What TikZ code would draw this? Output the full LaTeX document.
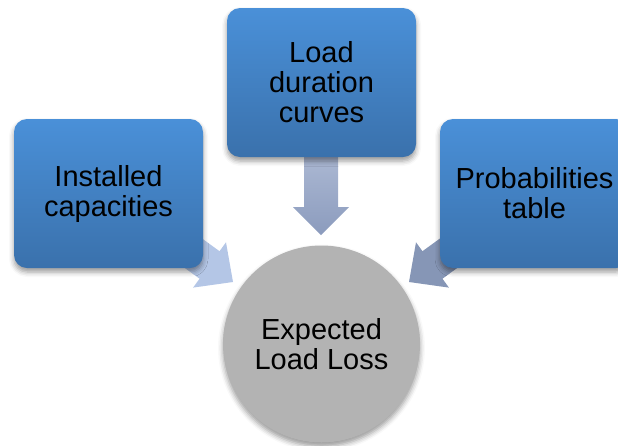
\documentclass[tikz,border=0pt]{standalone}
\usepackage{fontspec}
\setmainfont{Liberation Sans}
\usetikzlibrary{shadows.blur}

\definecolor{boxtop}{HTML}{4A90D8}
\definecolor{boxbottom}{HTML}{3A71AC}
\definecolor{arrowlight}{HTML}{B4C6E6}
\definecolor{arrowtop}{HTML}{B3BFD8}
\definecolor{arrowbottom}{HTML}{8B9BBD}
\definecolor{arrowdark}{HTML}{8696B6}
\definecolor{hubgray}{HTML}{B3B3B3}

\tikzset{
  softshadow/.style={blur shadow={shadow xshift=0pt, shadow yshift=-4pt,
      shadow blur radius=5pt, shadow opacity=40}},
  sourcebox/.style={rectangle, rounded corners=13pt, draw=none,
      top color=boxtop, bottom color=boxbottom, inner sep=0pt,
      minimum width=189pt, minimum height=149pt,
      text width=180pt, align=center, softshadow,
      font=\fontsize{29}{30}\selectfont},
  hub/.style={circle, draw=none, fill=hubgray, minimum size=197pt,
      inner sep=0pt, align=center, softshadow,
      font=\fontsize{29}{30}\selectfont},
}

\begin{document}
\begin{tikzpicture}[x=1pt, y=-1pt]
  \useasboundingbox (0,0) rectangle (618,445);

  % block arrows (drawn first so the boxes cover their tails)
  \coordinate (tipL) at (233,282);
  \coordinate (tipR) at (409,282);
  \coordinate (tipT) at (321,235);

  \begin{scope}[shift={(tipL)}, rotate=-36]
    \fill[arrowlight] (0,0) -- (-29,28) -- (-29,17) -- (-95,17)
      -- (-95,-17) -- (-29,-17) -- (-29,-28) -- cycle;
  \end{scope}
  \begin{scope}[shift={(tipR)}, rotate=-144]
    \fill[arrowdark] (0,0) -- (-29,28) -- (-29,17) -- (-95,17)
      -- (-95,-17) -- (-29,-17) -- (-29,-28) -- cycle;
  \end{scope}
  \shade[top color=arrowtop, bottom color=arrowbottom]
    (tipT) -- ++(-28,-28) -- ++(11,0) -- ++(0,-70) -- ++(34,0)
    -- ++(0,70) -- ++(11,0) -- cycle;

  % source boxes
  \node[sourcebox] (installed) at (108.5,193.5) {Installed\\capacities};
  \node[sourcebox] (duration) at (321.5,82.5) {Load\\duration\\curves};
  \node[sourcebox] (probs) at (534.5,193.5) {Probabilities\\table};

  % result
  \node[hub] (loss) at (321.5,344) {Expected\\Load Loss};
\end{tikzpicture}
\end{document}
